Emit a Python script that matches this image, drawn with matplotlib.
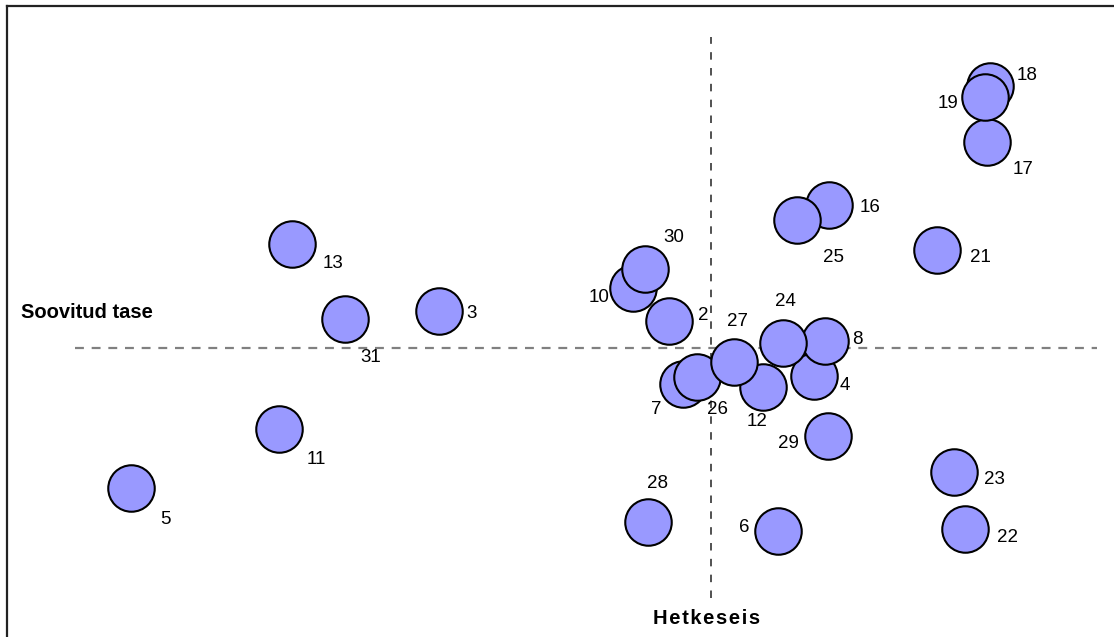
import matplotlib
matplotlib.use("Agg")
import matplotlib.pyplot as plt
from matplotlib.lines import Line2D

plt.rcParams['font.family'] = ['Liberation Sans', 'DejaVu Sans']

# Data: Hetkeseis (current state, x) and Soovitud tase (desired level, y)
ids = [2, 3, 4, 5, 6, 7, 8, 10, 11, 12, 13, 16, 17, 18, 19, 21, 22, 23,
       24, 25, 26, 27, 28, 29, 30, 31]
hetkeseis = [-0.42, -2.72, 1.03, -5.80, 0.67, -0.28, 1.14, -0.78, -4.32, 0.52,
             -4.19, 1.18, 2.76, 2.79, 2.74, 2.26, 2.54, 2.43,
             0.72, 0.86, -0.14, 0.23, -0.63, 1.17, -0.66, -3.66]
soovitud = [0.27, 0.37, -0.28, -1.40, -1.83, -0.36, 0.07, 0.60, -0.81, -0.39,
            1.04, 1.43, 2.06, 2.62, 2.51, 0.98, -1.81, -1.24,
            0.05, 1.28, -0.29, -0.14, -1.74, -0.88, 0.79, 0.29]

# label offsets in pixels (dx, dy with y up)
offsets = {2: (34, 5), 3: (33, -3), 4: (31, -10), 5: (34, -32), 6: (-34, 3),
           7: (-27, -26), 8: (32, 1), 10: (-34, -10), 11: (37, -30),
           12: (-6, -35), 13: (41, -19), 16: (41, -2), 17: (36, -28),
           18: (37, 11), 19: (-37, -7), 21: (43, -8), 22: (42, -8),
           23: (40, -7), 24: (2, 42), 25: (37, -37), 26: (20, -33),
           27: (3, 40), 28: (9, 38), 29: (-40, -8), 30: (29, 31), 31: (26, -38)}

W, H = 1114, 637
fig = plt.figure(figsize=(W / 100, H / 100), dpi=100)
ax = fig.add_axes([0, 0, 1, 1])
# axes limits so that crosshair (0,0) sits at pixel (711, 348)
ax.set_xlim(-7.11, (W - 711) / 100)
ax.set_ylim(-(H - 348) / 100, 3.48)
ax.axis('off')

# crosshair dashed lines
ax.plot([-6.36, 3.86], [0, 0], linestyle=(0, (4, 3.5)), color='#808080',
        lw=1.6, zorder=1)
ax.plot([0, 0], [-2.50, 3.11], linestyle=(0, (4.5, 5)), color='#333333',
        lw=1.2, zorder=1)

ax.scatter(hetkeseis, soovitud, s=1120, c='#9999ff', edgecolors='black',
           linewidths=1.5, zorder=3)

for i, x, y in zip(ids, hetkeseis, soovitud):
    dx, dy = offsets[i]
    ax.annotate(str(i), (x, y), xytext=(dx, dy), textcoords='offset pixels',
                ha='center', va='center', fontsize=13.5, color='black',
                zorder=4)

fig.text(21 / W, 1 - 313 / H, 'Soovitud tase', fontsize=14.5, fontweight='bold',
         ha='left', va='center')
fig.text(707 / W, 1 - 618 / H, 'H e t k e s e i s'.replace(' ', '\u200a'),
         fontsize=14.5, fontweight='bold', ha='center', va='center')

# frame (left and top)
fig.add_artist(Line2D([7 / W, 7 / W], [0, 1 - 6 / H], color='#222222', lw=1.6,
                      transform=fig.transFigure))
fig.add_artist(Line2D([7 / W, 1], [1 - 6 / H, 1 - 6 / H], color='#222222',
                      lw=1.6, transform=fig.transFigure))

fig.savefig('out.png', dpi=100)
